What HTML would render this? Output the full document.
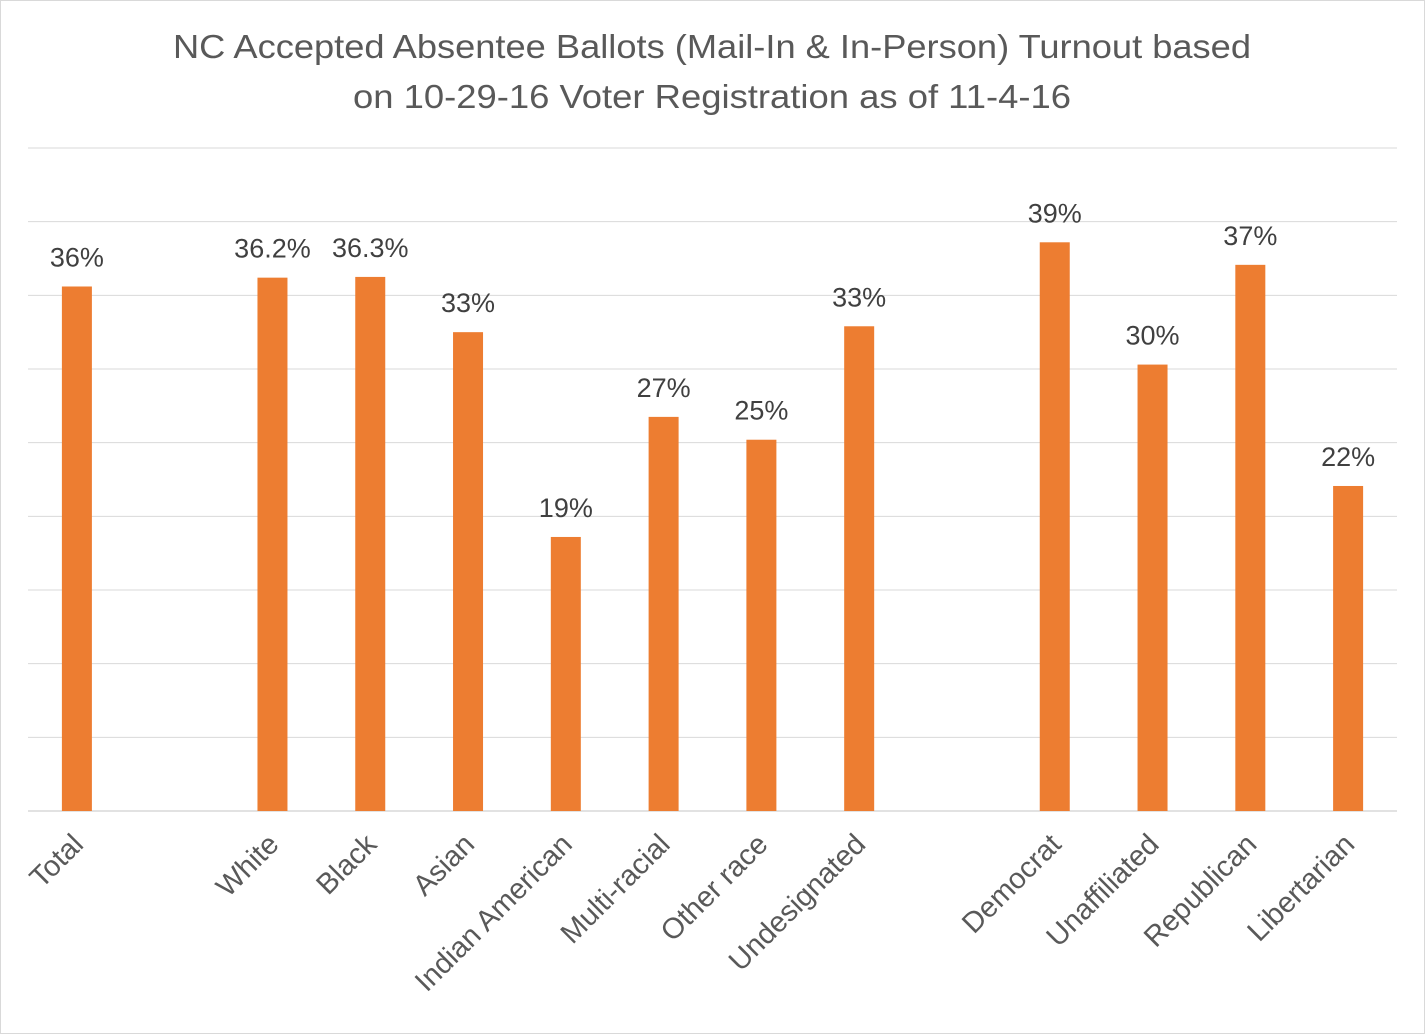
<!DOCTYPE html>
<html><head><meta charset="utf-8">
<style>
html,body{margin:0;padding:0;background:#fff;}
svg{display:block;font-family:"Liberation Sans",Calibri,sans-serif;}
</style></head>
<body>
<svg id="chart" width="1425" height="1034" viewBox="0 0 1425 1034">
<rect x="0.5" y="0.5" width="1424" height="1033" fill="#fff" stroke="#d9d9d9"/>
<text x="712" y="58" text-anchor="middle" font-size="33" fill="#595959" textLength="1078" lengthAdjust="spacingAndGlyphs">NC Accepted Absentee Ballots (Mail-In &amp; In-Person) Turnout based</text>
<text x="712" y="108" text-anchor="middle" font-size="33" fill="#595959" textLength="718" lengthAdjust="spacingAndGlyphs">on 10-29-16 Voter Registration as of 11-4-16</text>
<g id="grid"></g><g id="bars"></g><g id="labels"></g>
</svg>
<script>
const categories = ["Total","","White","Black","Asian","Indian American","Multi-racial","Other race","Undesignated","","Democrat","Unaffiliated","Republican","Libertarian"];
const values = [35.6,null,36.2,36.25,32.5,18.6,26.75,25.2,32.9,null,38.6,30.3,37.07,22.06];
const valueLabels = ["36%","","36.2%","36.3%","33%","19%","27%","25%","33%","","39%","30%","37%","22%"];
const gridTicks = [0,5,10,15,20,25,30,35,40,45];

const NS="http://www.w3.org/2000/svg";
const x0=28,x1=1397,yBase=811,yTop=148,maxV=45;
const slot=(x1-x0)/categories.length;
const xC=i=>x0+slot*(i+0.5);
const y=v=>yBase-(v/maxV)*(yBase-yTop);
function mk(tag,attrs,parent){const e=document.createElementNS(NS,tag);for(const k in attrs)e.setAttribute(k,attrs[k]);parent.appendChild(e);return e;}
const g=document.getElementById('grid'),b=document.getElementById('bars'),l=document.getElementById('labels');
gridTicks.forEach(t=>{
  const ln=mk('line',{x1:x0,x2:x1,y1:y(t),y2:y(t),stroke:'#d9d9d9','stroke-width':t===0?1.5:1},g);
  
  
});
categories.forEach((c,i)=>{
  if(values[i]==null)return;
  const r=mk('rect',{x:xC(i)-15,y:y(values[i]),width:30,height:yBase-y(values[i]),fill:'#ed7d31'},b);
  
  
  const t=mk('text',{x:xC(i),y:y(values[i])-20,'text-anchor':'middle','font-size':27,fill:'#404040'},l);
  t.textContent=valueLabels[i];
  
  
  const cx=xC(i)+8,cy=846;
  const a=mk('text',{x:cx,y:cy,'text-anchor':'end','font-size':29,fill:'#595959',transform:`rotate(-45 ${cx} ${cy})`},l);
  a.textContent=c;
  
  
});
</script>
</body></html>
